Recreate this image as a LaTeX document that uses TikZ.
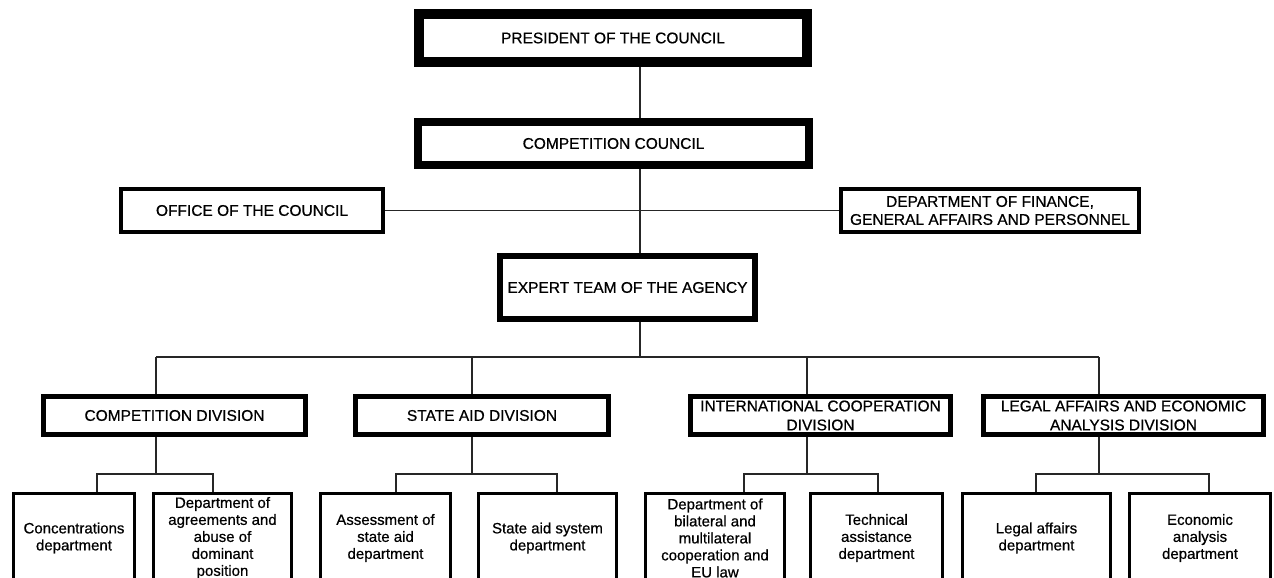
\documentclass[tikz,border=0pt]{standalone}
\usepackage{fontspec}
\setmainfont[FakeBold=0.6]{Liberation Sans}
\usetikzlibrary{positioning,calc}
\tikzset{
	unit/.style={
		rectangle,
		draw=black,
		fill=white,
		inner sep=0pt,
		align=center,
		font=\fontsize{15.5}{19}\selectfont,
	},
	division/.style={
		unit,
		line width=5pt,
		minimum height=38pt,
	},
	dept/.style={
		unit,
		line width=3pt,
		minimum height=89pt,
		font=\fontsize{15}{17}\selectfont,
	},
	link/.style={
		line width=1.2pt,
		draw=black!85,
	},
}
\begin{document}
\begin{tikzpicture}[x=1pt,y=-1pt]
		\useasboundingbox (0,0) rectangle (1274,578);
		\clip (0,0) rectangle (1274,578);
		\fill[white] (0,0) rectangle (1274,578);

		\node [unit,line width=10pt,minimum width=388pt,minimum height=48pt] (pres) at (613,38) {PRESIDENT OF THE COUNCIL};
		\node [unit,line width=8pt,minimum width=391pt,minimum height=43pt] (council) at (613.5,143.5) {COMPETITION COUNCIL};
		\node [unit,line width=4pt,minimum width=262pt,minimum height=43pt] (office) at (252,210.5) {OFFICE OF THE COUNCIL};
		\node [unit,line width=4pt,minimum width=298pt,minimum height=43pt,font=\fontsize{15.5}{18}\selectfont] (finance) at (990,210.5) {DEPARTMENT OF FINANCE,\\GENERAL AFFAIRS AND PERSONNEL};
		\node [unit,line width=6pt,minimum width=255pt,minimum height=63pt] (expert) at (627.5,287.5) {EXPERT TEAM OF THE AGENCY};

		\node [division,minimum width=262pt] (compdiv) at (174.5,415.5) {COMPETITION DIVISION};
		\node [division,minimum width=253pt] (aiddiv) at (482,415.5) {STATE AID DIVISION};
		\node [division,minimum width=260pt] (intdiv) at (820.5,415.5) {INTERNATIONAL COOPERATION\\DIVISION};
		\node [division,minimum width=280pt] (legaldiv) at (1123.5,415.5) {LEGAL AFFAIRS AND ECONOMIC\\ANALYSIS DIVISION};

		\node [dept,minimum width=121pt] (conc) at (74,538) {Concentrations\\department};
		\node [dept,minimum width=138pt] (agree) at (222.5,538) {Department of\\agreements and\\abuse of\\dominant\\position};
		\node [dept,minimum width=130pt] (assess) at (385.5,538) {Assessment of\\state aid\\department};
		\node [dept,minimum width=138pt] (aidsys) at (547.5,538) {State aid system\\department};
		\node [dept,minimum width=139pt] (bilat) at (715,538) {Department of\\bilateral and\\multilateral\\cooperation and\\EU law};
		\node [dept,minimum width=132pt] (techass) at (876.5,538) {Technical\\assistance\\department};
		\node [dept,minimum width=148pt] (legal) at (1036.5,538) {Legal affairs\\department};
		\node [dept,minimum width=141pt] (econ) at (1200,538) {Economic\\analysis\\department};

		\coordinate (spine) at (640,0);
		\coordinate (bus) at (640,357);
		\coordinate (comp-in) at (156,357);
		\coordinate (aid-in) at (472,357);
		\coordinate (int-in) at (807,357);
		\coordinate (legal-in) at (1099,357);

		\draw[link] (pres.south -| spine) -- (council.north -| spine);
		\draw[link] (council.south -| spine) -- (expert.north -| spine);
		\draw[link] (office.east) -- (finance.west);
		\draw[link] (expert.south -| spine) -- (bus);
		\draw[link] (comp-in) -- (legal-in);
		\draw[link] (comp-in) -- (comp-in |- compdiv.north);
		\draw[link] (aid-in) -- (aid-in |- aiddiv.north);
		\draw[link] (int-in) -- (int-in |- intdiv.north);
		\draw[link] (legal-in) -- (legal-in |- legaldiv.north);

		\coordinate (conc-up) at (97,474);
		\coordinate (agree-up) at (213,474);
		\coordinate (assess-up) at (396,474);
		\coordinate (aidsys-up) at (557,474);
		\coordinate (bilat-up) at (744,474);
		\coordinate (techass-up) at (878,474);
		\coordinate (legal-up) at (1036,474);
		\coordinate (econ-up) at (1209,474);

		\draw[link] (compdiv.south -| comp-in) -- (comp-in |- conc-up);
		\draw[link] (conc.north -| conc-up) -- (conc-up) -- (agree-up) -- (agree.north -| agree-up);
		\draw[link] (aiddiv.south -| aid-in) -- (aid-in |- assess-up);
		\draw[link] (assess.north -| assess-up) -- (assess-up) -- (aidsys-up) -- (aidsys.north -| aidsys-up);
		\draw[link] (intdiv.south -| int-in) -- (int-in |- bilat-up);
		\draw[link] (bilat.north -| bilat-up) -- (bilat-up) -- (techass-up) -- (techass.north -| techass-up);
		\draw[link] (legaldiv.south -| legal-in) -- (legal-in |- legal-up);
		\draw[link] (legal.north -| legal-up) -- (legal-up) -- (econ-up) -- (econ.north -| econ-up);
	\end{tikzpicture}
\end{document}
